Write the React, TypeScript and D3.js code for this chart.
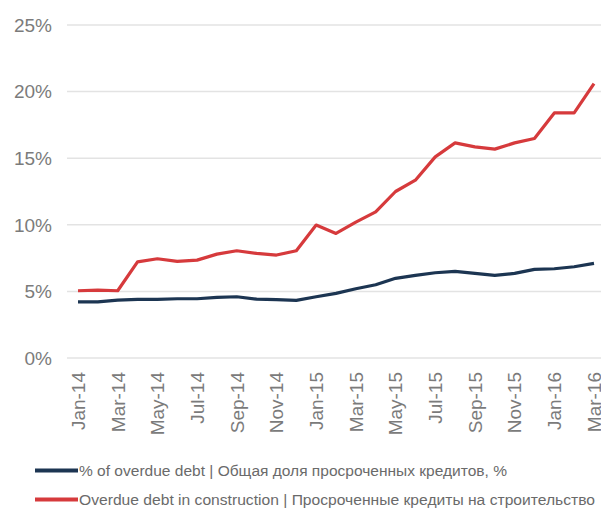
import React from "react";
import * as d3 from "d3";

const months = [
  "Jan-14","Feb-14","Mar-14","Apr-14","May-14","Jun-14","Jul-14","Aug-14","Sep-14","Oct-14","Nov-14","Dec-14",
  "Jan-15","Feb-15","Mar-15","Apr-15","May-15","Jun-15","Jul-15","Aug-15","Sep-15","Oct-15","Nov-15","Dec-15",
  "Jan-16","Feb-16","Mar-16",
];
const overdueTotal = [
  4.22, 4.22, 4.35, 4.4, 4.4, 4.45, 4.45, 4.55, 4.6, 4.42, 4.38, 4.33,
  4.6, 4.85, 5.2, 5.5, 5.98, 6.2, 6.4, 6.5, 6.35, 6.2, 6.35, 6.65,
  6.7, 6.85, 7.1,
];
const overdueConstruction = [
  5.05, 5.1, 5.05, 7.22, 7.45, 7.25, 7.35, 7.8, 8.05, 7.85, 7.73, 8.05,
  9.98, 9.35, 10.2, 10.97, 12.5, 13.35, 15.1, 16.15, 15.85, 15.68, 16.15, 16.48,
  18.4, 18.4, 20.6,
];
const yTicks = [0, 5, 10, 15, 20, 25];
const shownMonths = months.filter((_, i) => i % 2 === 0);
const seriesNames = [
  "% of overdue debt | Общая доля просроченных кредитов, %",
  "Overdue debt in construction | Просроченные кредиты на строительство",
];
const seriesColors = ["#1c3552", "#d63a3c"];

export default function App() {
  const W = 601, H = 509;
  const x = d3.scalePoint<string>().domain(months).range([78, 594]);
  const y = d3.scaleLinear().domain([0, 25]).range([358, 25]);
  const line = d3
    .line<number>()
    .x((_, i) => x(months[i]) as number)
    .y((d) => y(d));
  const font = "'Liberation Sans', Arial, sans-serif";
  const series = [overdueTotal, overdueConstruction];
  const legendLengths = [428, 516];
  return (
    <svg width={W} height={H} style={{ position: "absolute", left: 0, top: 0, background: "#fff" }}>
      {yTicks.map((t) => (
        <g key={t}>
          <line x1={67} x2={601} y1={y(t)} y2={y(t)} stroke="#e3e3e3" strokeWidth={1.5} />
          <text x={52} y={y(t)} dy="0.36em" textAnchor="end" fontFamily={font} fontSize={19} fill="#7b7b7b">
            {t}%
          </text>
        </g>
      ))}
      {shownMonths.map((m) => (
        <text
          key={m}
          transform={`translate(${x(m)},372) rotate(-90)`}
          dy="0.36em"
          textAnchor="end"
          fontFamily={font}
          fontSize={19}
          fill="#7b7b7b"
        >
          {m}
        </text>
      ))}
      {series.map((s, i) => (
        <path
          key={i}
          d={line(s) || ""}
          fill="none"
          stroke={seriesColors[i]}
          strokeWidth={3.2}
          strokeLinejoin="round"
        />
      ))}
      {seriesNames.map((n, i) => (
        <g key={n} transform={`translate(0,${470.5 + i * 29})`}>
          <line x1={35} x2={78} y1={0} y2={0} stroke={seriesColors[i]} strokeWidth={4} />
          <text
            x={79}
            y={0}
            dy="0.35em"
            fontFamily={font}
            fontSize={15.5}
            fill="#6a6a6a"
            textLength={legendLengths[i]}
            lengthAdjust="spacingAndGlyphs"
          >
            {n}
          </text>
        </g>
      ))}
    </svg>
  );
}
